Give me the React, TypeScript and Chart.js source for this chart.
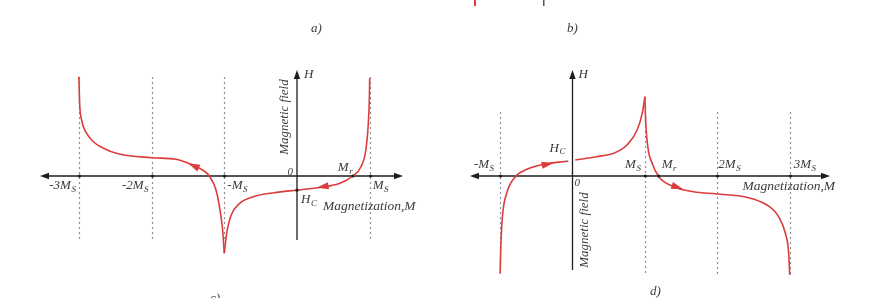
import React, { useEffect, useRef } from "react";
import { Chart, registerables } from "chart.js";

Chart.register(...registerables);

// ---------- Panel c) data (M in units of Ms, H in arbitrary field units) ----------
const cBranch1M = [-3, -2.99, -2.963, -2.907, -2.816, -2.677, -2.446, -2.008, -1.664, -1.55, -1.435, -1.298, -1.206, -1.114, -1.059, -1.023, -1];
const cBranch1H = [9.93, 7.27, 5.6, 4.43, 3.53, 2.83, 2.2, 1.83, 1.67, 1.43, 1.1, 0.6, 0, -1.4, -3.4, -5.4, -7.73];
const cBranch2M = [-1, -0.967, -0.905, -0.788, -0.6, -0.317, 0.013, 0.324, 0.591, 0.768, 0.88, 0.947, 0.981, 0.996, 1.0];
const cBranch2H = [-7.73, -5.73, -3.9, -2.73, -2.07, -1.67, -1.4, -1.13, -0.73, 0, 0.93, 2.6, 5.27, 7.93, 9.77];
const cTicks = [-3, -2, -1, 1];
const cTickLabels = ["-3M", "-2M", "-M", "M"];
const cMr = 0.768;
const cHc = -1.42;
// arrows on the curve: [tip M, tail M] and which branch they sit on
const cArrowTipM = [-1.50, 0.27];
const cArrowTailM = [-1.34, 0.43];
const cArrowBranch = [1, 2];

// ---------- Panel d) data ----------
const dBranch1aM = [-1, -0.99, -0.968, -0.909, -0.788, -0.63, -0.36, -0.058];
const dBranch1aH = [-9.73, -7.07, -4.07, -1.73, -0.07, 0.67, 1.2, 1.5];
const dBranch1bM = [0.038, 0.33, 0.587, 0.752, 0.893, 0.963, 1.0];
const dBranch1bH = [1.6, 1.93, 2.33, 3.1, 4.6, 6.27, 7.93];
const dBranch2M = [1.0, 1.01, 1.04, 1.1, 1.192, 1.397, 1.671, 1.992, 2.408, 2.686, 2.847, 2.94, 2.986, 3.0];
const dBranch2H = [7.93, 5.6, 2.93, 1.27, -0.07, -1.07, -1.57, -1.8, -2.13, -2.9, -4.07, -5.73, -7.73, -9.9];
const dTicks = [-1, 1, 2, 3];
const dTickLabels = ["-M", "M", "2M", "3M"];
const dMr = 1.19;
const dHc = 1.55;
const dArrowTipM = [-0.26, 1.53];
const dArrowTailM = [-0.42, 1.37];
const dArrowBranch = [1, 2];

const RED = "#dc3c3c";
const INK = "#3a3a3a";
const SERIF = '"Liberation Serif", "Times New Roman", serif';

const pts = (xs: number[], ys: number[]) => xs.map((x, i) => ({ x, y: ys[i] }));

function interp(xs: number[], ys: number[], v: number) {
  for (let i = 0; i < xs.length - 1; i++) {
    if (v >= xs[i] && v <= xs[i + 1]) {
      const t = (v - xs[i]) / (xs[i + 1] - xs[i] || 1);
      return ys[i] + t * (ys[i + 1] - ys[i]);
    }
  }
  return v < xs[0] ? ys[0] : ys[ys.length - 1];
}

function italicLabel(
  ctx: CanvasRenderingContext2D,
  main: string,
  sub: string,
  x: number,
  y: number,
  align: "left" | "right" | "center",
  size = 13
) {
  ctx.save();
  ctx.fillStyle = INK;
  ctx.textAlign = "left";
  ctx.textBaseline = "alphabetic";
  const mainFont = `italic ${size}px ${SERIF}`;
  const subFont = `italic ${Math.round(size * 0.68)}px ${SERIF}`;
  ctx.font = mainFont;
  const w1 = ctx.measureText(main).width;
  ctx.font = subFont;
  const w2 = sub ? ctx.measureText(sub).width + 0.5 : 0;
  const total = w1 + w2;
  const start = align === "left" ? x : align === "right" ? x - total : x - total / 2;
  ctx.font = mainFont;
  ctx.fillText(main, start, y);
  if (sub) {
    ctx.font = subFont;
    ctx.fillText(sub, start + w1 + 0.5, y + size * 0.22);
  }
  ctx.restore();
}

function rotatedLabel(ctx: CanvasRenderingContext2D, text: string, x: number, cy: number, size = 13) {
  ctx.save();
  ctx.translate(x, cy);
  ctx.rotate(-Math.PI / 2);
  ctx.fillStyle = INK;
  ctx.font = `italic ${size}px ${SERIF}`;
  ctx.textAlign = "center";
  ctx.textBaseline = "alphabetic";
  ctx.fillText(text, 0, 0);
  ctx.restore();
}

function arrowHead(ctx: CanvasRenderingContext2D, tipX: number, tipY: number, tailX: number, tailY: number, len: number, half: number, color: string) {
  const a = Math.atan2(tipY - tailY, tipX - tailX);
  const bx = tipX - Math.cos(a) * len;
  const by = tipY - Math.sin(a) * len;
  ctx.save();
  ctx.fillStyle = color;
  ctx.beginPath();
  ctx.moveTo(tipX, tipY);
  ctx.lineTo(bx + Math.sin(a) * half, by - Math.cos(a) * half);
  ctx.lineTo(bx - Math.sin(a) * half, by + Math.cos(a) * half);
  ctx.closePath();
  ctx.fill();
  ctx.restore();
}

const diagramPlugin = {
  id: "diagram",
  beforeDatasetsDraw(chart: any) {
    const ctx: CanvasRenderingContext2D = chart.ctx;
    const xc = chart.scales.xc;
    const xd = chart.scales.xd;
    const y = chart.scales.y;
    const Y = (v: number) => y.getPixelForValue(v);

    ctx.save();
    // dashed verticals
    ctx.strokeStyle = "#909090";
    ctx.lineWidth = 1.2;
    ctx.setLineDash([2, 3]);
    cTicks.forEach((t) => {
      const px = Math.round(xc.getPixelForValue(t)) + 0.5;
      ctx.beginPath();
      ctx.moveTo(px, Y(9.9));
      ctx.lineTo(px, Y(-6.4));
      ctx.stroke();
    });
    dTicks.forEach((t) => {
      const px = Math.round(xd.getPixelForValue(t)) + 0.5;
      ctx.beginPath();
      ctx.moveTo(px, Y(t === 1 ? 7.0 : 6.4));
      ctx.lineTo(px, Y(-9.9));
      ctx.stroke();
    });
    ctx.setLineDash([]);

    // axes
    ctx.strokeStyle = "#1e1e1e";
    ctx.lineWidth = 1.3;
    const drawAxes = (sx: any, xmin: number, xmax: number, ytop: number, ybot: number) => {
      const y0 = Y(0);
      const x0 = sx.getPixelForValue(0);
      const l = sx.getPixelForValue(xmin);
      const r = sx.getPixelForValue(xmax);
      ctx.beginPath();
      ctx.moveTo(l + 4, y0);
      ctx.lineTo(r - 4, y0);
      ctx.moveTo(x0, Y(ytop) + 4);
      ctx.lineTo(x0, Y(ybot));
      ctx.stroke();
      arrowHead(ctx, l, y0, l + 10, y0, 9, 3.2, "#1e1e1e");
      arrowHead(ctx, r, y0, r - 10, y0, 9, 3.2, "#1e1e1e");
      arrowHead(ctx, x0, Y(ytop), x0, Y(ytop) + 10, 9, 3.2, "#1e1e1e");
    };
    drawAxes(xc, -3.535, 1.458, 10.6, -6.4);
    drawAxes(xd, -1.416, 3.557, 10.6, -9.4);

    // ---- labels panel c
    const c0x = xc.getPixelForValue(0);
    const y0 = Y(0);
    cTicks.forEach((t, i) => {
      const px = xc.getPixelForValue(t);
      if (t < -1) italicLabel(ctx, cTickLabels[i], "S", px - 3, y0 + 13, "right");
      else italicLabel(ctx, cTickLabels[i], "S", px + 3, y0 + 13, "left");
    });
    italicLabel(ctx, "H", "", c0x + 7, Y(10.6) + 8, "left");
    italicLabel(ctx, "0", "", c0x - 4, y0 - 1, "right", 11);
    italicLabel(ctx, "M", "r", xc.getPixelForValue(cMr) - 15, y0 - 5, "left");
    italicLabel(ctx, "H", "C", c0x + 4, Y(cHc) + 13, "left");
    italicLabel(ctx, "Magnetization,M", "", c0x + 26, y0 + 34, "left", 13.5);
    rotatedLabel(ctx, "Magnetic field", c0x - 9, 117);

    // ---- labels panel d
    const d0x = xd.getPixelForValue(0);
    dTicks.forEach((t, i) => {
      const px = xd.getPixelForValue(t);
      if (t < 2) italicLabel(ctx, dTickLabels[i], "S", px - (t < 0 ? 6 : 4), y0 - 8, "right");
      else italicLabel(ctx, dTickLabels[i], "S", px + (t === 2 ? 1 : 4), y0 - 8, "left");
    });
    italicLabel(ctx, "H", "", d0x + 6, Y(10.6) + 8, "left");
    italicLabel(ctx, "0", "", d0x + 2, y0 + 10, "left", 11);
    italicLabel(ctx, "M", "r", xd.getPixelForValue(dMr) + 3, y0 - 8, "left");
    italicLabel(ctx, "H", "C", d0x - 23, Y(dHc) - 9, "left");
    italicLabel(ctx, "Magnetization,M", "", d0x + 170, y0 + 14, "left", 13.5);
    rotatedLabel(ctx, "Magnetic field", d0x + 15, 230);

    // panel captions
    italicLabel(ctx, "a)", "", 311, 32, "left");
    italicLabel(ctx, "b)", "", 567, 32, "left");
    italicLabel(ctx, "c)", "", 210, 302, "left");
    italicLabel(ctx, "d)", "", 650, 295, "left");

    // clipped fragments at top edge
    ctx.fillStyle = RED;
    ctx.fillRect(474, 0, 2, 6);
    ctx.fillStyle = "#555";
    ctx.fillRect(543, 0, 1.5, 6);
    ctx.restore();
  },
  afterDatasetsDraw(chart: any) {
    const ctx: CanvasRenderingContext2D = chart.ctx;
    const xc = chart.scales.xc;
    const xd = chart.scales.xd;
    const y = chart.scales.y;
    const Y = (v: number) => y.getPixelForValue(v);
    const cBr: [number[], number[]][] = [[cBranch1M, cBranch1H], [cBranch2M, cBranch2H]];
    const dBr: [number[], number[]][] = [[dBranch1aM, dBranch1aH], [dBranch2M, dBranch2H]];
    cArrowTipM.forEach((m, i) => {
      const [bx, by] = cBr[cArrowBranch[i] - 1];
      const tailM = cArrowTailM[i];
      arrowHead(
        ctx,
        xc.getPixelForValue(m), Y(interp(bx, by, m)),
        xc.getPixelForValue(tailM), Y(interp(bx, by, tailM)),
        12, 3.6, RED
      );
    });
    dArrowTipM.forEach((m, i) => {
      const [bx, by] = dBr[dArrowBranch[i] - 1];
      const tailM = dArrowTailM[i];
      arrowHead(
        ctx,
        xd.getPixelForValue(m), Y(interp(bx, by, m)),
        xd.getPixelForValue(tailM), Y(interp(bx, by, tailM)),
        12, 3.6, RED
      );
    });
    // small dots at intersections
    ctx.save();
    ctx.fillStyle = "#1e1e1e";
    const dot = (px: number, py: number) => {
      ctx.beginPath();
      ctx.arc(px, py, 1.6, 0, Math.PI * 2);
      ctx.fill();
    };
    cTicks.forEach((t) => dot(Math.round(xc.getPixelForValue(t)) + 0.5, Y(0)));
    dTicks.forEach((t) => dot(Math.round(xd.getPixelForValue(t)) + 0.5, Y(0)));
    dot(xc.getPixelForValue(0), Y(cHc));
    dot(xc.getPixelForValue(cMr), Y(0));
    dot(xd.getPixelForValue(dMr), Y(0));
    ctx.restore();
  },
};

export default function App() {
  const ref = useRef<HTMLCanvasElement | null>(null);
  useEffect(() => {
    if (!ref.current) return;
    const line = (data: { x: number; y: number }[], xAxisID: string) => ({
      data,
      xAxisID,
      yAxisID: "y",
      borderColor: RED,
      borderWidth: 1.6,
      pointRadius: 0,
      fill: false,
      cubicInterpolationMode: "monotone" as const,
    });
    const chart = new Chart(ref.current, {
      type: "line",
      data: {
        datasets: [
          line(pts(cBranch1M, cBranch1H), "xc"),
          line(pts(cBranch2M, cBranch2H), "xc"),
          line(pts(dBranch1aM, dBranch1aH), "xd"),
          line(pts(dBranch1bM, dBranch1bH), "xd"),
          line(pts(dBranch2M, dBranch2H), "xd"),
        ],
      },
      options: {
        animation: false,
        responsive: false,
        maintainAspectRatio: false,
        events: [],
        layout: { padding: 0 },
        plugins: {
          legend: { display: false },
          tooltip: { enabled: false },
          title: { display: false },
        },
        scales: {
          xc: { type: "linear", display: false, min: -297 / 72.7, max: (887 - 297) / 72.7 },
          xd: { type: "linear", display: false, min: -572.5 / 72.4, max: (887 - 572.5) / 72.4 },
          y: { type: "linear", display: false, min: -12.2, max: 17.6 },
        },
      },
      plugins: [diagramPlugin],
    });
    return () => chart.destroy();
  }, []);
  return (
    <div style={{ position: "fixed", left: 0, top: 0, width: 887, height: 298, background: "#fff" }}>
      <canvas ref={ref} width={887} height={298} style={{ display: "block", width: 887, height: 298 }} />
    </div>
  );
}
